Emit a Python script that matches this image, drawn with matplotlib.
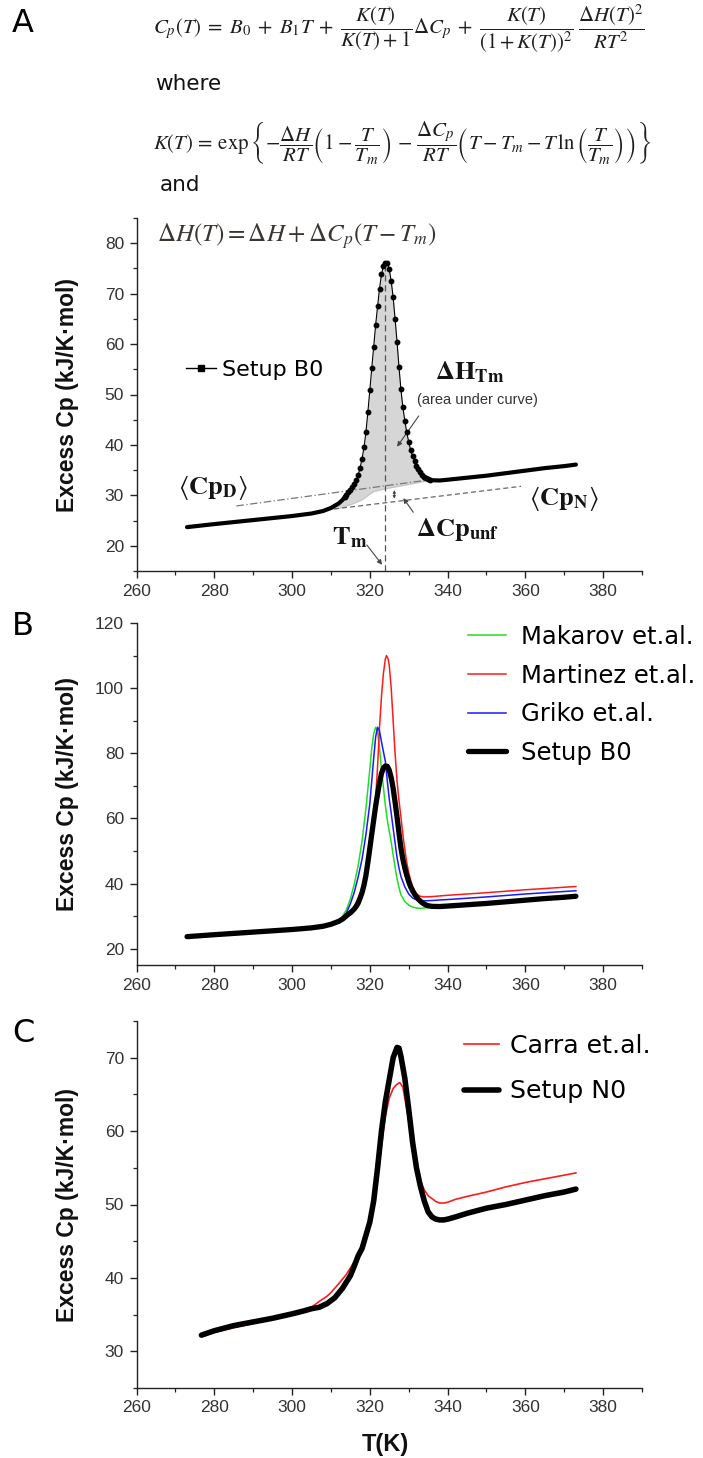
import numpy as np
import matplotlib
matplotlib.use('Agg')
import matplotlib.pyplot as plt
from matplotlib.lines import Line2D
from matplotlib.ticker import MultipleLocator

plt.rcParams['mathtext.fontset'] = 'stix'
plt.rcParams['font.family'] = ['Liberation Sans', 'DejaVu Sans']

# ---------------- data ----------------
# Panel A / B : Setup B0
T_B0 = [273, 280, 290, 300, 305, 308, 310, 312, 313, 313.5, 314, 314.5, 315, 315.5, 316,
        316.5, 317, 317.5, 318, 318.5, 319, 319.5, 320, 320.5, 321, 321.5, 322, 322.5, 323,
        323.5, 324, 324.5, 325, 325.5, 326, 326.5, 327, 327.5, 328, 328.5, 329, 329.5, 330,
        330.5, 331, 331.5, 332, 332.5, 333, 333.5, 334, 334.5, 335, 335.5, 336, 338, 340,
        345, 350, 355, 360, 365, 370, 373]
Cp_B0 = [23.7, 24.3, 25.1, 25.9, 26.4, 26.9, 27.5, 28.4, 29.1, 29.6, 30.1, 30.6, 31.0, 31.6, 32.2,
         33.0, 34.0, 35.5, 37.2, 39.5, 42.5, 46.5, 50.8, 55.2, 59.5, 63.8, 67.5, 71.0, 73.8,
         75.5, 76.1, 76.0, 74.8, 72.5, 69.3, 65.0, 60.5, 55.5, 51.0, 47.5, 44.8, 42.5, 40.6,
         39.0, 37.8, 36.8, 35.9, 35.2, 34.6, 34.1, 33.7, 33.4, 33.2, 33.1, 33.0, 32.95, 33.1,
         33.5, 33.9, 34.4, 34.9, 35.4, 35.8, 36.1]

# Panel A helper lines
T_lineD = [285.7, 335.5]
Cp_lineD = [27.9, 33.1]
T_lineN = [308.7, 358.9]
Cp_lineN = [27.1, 31.8]
T_fill_base = [308.7, 312.0, 315.6, 318.2, 320.8, 323.4, 326.0, 330.3, 335.5]
Cp_fill_base = [27.1, 27.4, 28.3, 29.2, 30.7, 31.2, 31.6, 32.2, 33.0]
Tm = 324.0

# Panel B
T_mak = [273, 290, 300, 305, 308, 310, 312, 313, 314, 315, 316, 317, 318, 319, 320, 320.5, 321,
         321.5, 322, 322.5, 323, 323.5, 324, 324.5, 325, 325.5, 326, 326.5, 327, 327.5, 328,
         329, 330, 331, 332, 333, 335, 337, 340, 350, 360, 373]
Cp_mak = [23.7, 25.1, 25.9, 26.4, 27.0, 27.7, 28.8, 30.0, 32.0, 35.3, 39.8, 45.5, 53.0, 63.0, 75.0,
          81.5, 86.0, 88.0, 86.5, 81.5, 75.0, 69.5, 64.0, 59.5, 56.0, 52.8, 48.8, 45.0, 41.5,
          38.8, 36.6, 34.5, 33.4, 32.8, 32.5, 32.4, 32.6, 32.8, 33.0, 33.8, 34.7, 35.9]
T_mar = [273, 290, 300, 305, 308, 310, 312, 314, 315, 316, 317, 318, 319, 320, 320.5, 321, 321.5,
         322, 322.5, 323, 323.5, 324, 324.3, 324.7, 325, 325.5, 326, 326.5, 327, 327.5, 328,
         328.5, 329, 329.5, 330, 330.5, 331, 331.5, 332, 333, 334, 336, 340, 350, 360, 373]
Cp_mar = [23.7, 25.1, 25.9, 26.4, 26.9, 27.4, 28.2, 29.8, 31.0, 33.0, 35.5, 38.5, 42.5, 48.0, 52.5,
          58.5, 66.0, 76.0, 88.0, 97.5, 104.5, 109.0, 110.0, 109.0, 107.0, 100.0, 90.0, 80.0,
          71.5, 65.5, 60.5, 55.0, 50.5, 46.5, 43.5, 41.0, 39.2, 37.8, 36.8, 36.1, 35.9, 36.0,
          36.4, 37.2, 38.1, 39.1]
T_gri = [273, 290, 300, 305, 308, 310, 312, 313, 314, 315, 316, 317, 318, 319, 320, 320.5, 321,
         321.5, 322, 322.5, 323, 323.5, 324, 324.5, 325, 325.5, 326, 326.5, 327, 327.5, 328,
         329, 330, 331, 332, 333, 334, 336, 340, 350, 360, 373]
Cp_gri = [23.7, 25.1, 25.9, 26.4, 27.0, 27.6, 28.5, 29.5, 31.0, 33.8, 37.3, 42.0, 47.5, 55.0, 64.5,
          71.5, 78.5, 85.0, 88.0, 86.8, 83.5, 80.5, 77.5, 71.5, 66.0, 61.6, 57.0, 52.5, 48.0,
          44.8, 42.2, 39.0, 36.8, 35.6, 35.0, 34.8, 34.7, 34.8, 35.1, 35.9, 36.8, 37.8]

# Panel C
T_car = [276.7, 300, 303, 305, 307, 309, 310, 312, 314, 316, 318, 319, 320, 321, 322, 323, 324,
         325, 326, 327, 327.7, 328.5, 329, 330, 331, 332, 333, 334, 335, 336, 337, 338, 339,
         340, 342, 345, 350, 355, 360, 365, 370, 373]
Cp_car = [32.2, 35.0, 35.5, 36.0, 36.8, 37.5, 38.0, 39.2, 40.5, 42.2, 44.5, 46.0, 47.8, 50.5, 54.0,
          58.0, 62.0, 64.5, 65.8, 66.4, 66.6, 66.0, 64.5, 61.5, 58.0, 55.0, 53.3, 52.0, 51.2,
          50.8, 50.4, 50.2, 50.2, 50.3, 50.7, 51.1, 51.7, 52.4, 53.0, 53.5, 54.0, 54.3]
T_N0 = [276.7, 280, 285, 290, 295, 300, 303, 305, 307, 309, 311, 313, 315, 316, 317, 318, 319,
        320, 321, 322, 323, 324, 325, 326, 327, 327.5, 328, 329, 330, 331, 332, 333, 334, 335,
        336, 337, 338, 339, 340, 342, 345, 350, 355, 360, 365, 370, 373]
Cp_N0 = [32.2, 32.8, 33.5, 34.0, 34.5, 35.1, 35.5, 35.8, 36.0, 36.5, 37.3, 38.6, 40.3, 41.6, 43.0,
         44.0, 45.8, 47.6, 50.5, 55.0, 60.0, 64.0, 67.0, 70.0, 71.4, 71.3, 70.2, 67.2, 63.0,
         58.5, 55.0, 52.5, 50.5, 49.0, 48.3, 48.0, 47.9, 47.9, 48.0, 48.3, 48.8, 49.5, 50.0,
         50.6, 51.2, 51.7, 52.1]

x_ticks = [260, 280, 300, 320, 340, 360, 380]

# ---------------- figure ----------------
W, H = 703, 1458
fig = plt.figure(figsize=(W / 100, H / 100), dpi=100)


def fx(px):
    return px / W


def fy(py):
    return 1 - py / H


L, R = 136.5, 642.0
axA = fig.add_axes([fx(L), fy(571), fx(R) - fx(L), (571 - 218) / H])
axB = fig.add_axes([fx(L), fy(965), fx(R) - fx(L), (965 - 623) / H])
axC = fig.add_axes([fx(L), fy(1388), fx(R) - fx(L), (1388 - 1021) / H])

tick_col = '#333333'
for ax in (axA, axB, axC):
    for s in ('top', 'right'):
        ax.spines[s].set_visible(False)
    for s in ('left', 'bottom'):
        ax.spines[s].set_color('#222222')
        ax.spines[s].set_linewidth(1.0)
    ax.set_xlim(260, 390)
    ax.set_xticks(x_ticks)
    ax.xaxis.set_minor_locator(MultipleLocator(10))
    ax.tick_params(which='major', direction='out', length=5, width=1.0, colors='#222222',
                   labelcolor=tick_col, labelsize=12.5, pad=4)
    ax.tick_params(which='minor', direction='out', length=3, width=0.9, colors='#222222')
    ax.set_ylabel('Excess Cp (kJ/K·mol)', fontsize=16.5, fontweight='bold', color='#111111')
    ax.yaxis.set_label_coords((79 - L) / (R - L), 0.5)

# ---- Panel A ----
axA.set_ylim(15, 85)
axA.set_yticks([20, 30, 40, 50, 60, 70, 80])
axA.yaxis.set_minor_locator(MultipleLocator(5))

TB = np.array(T_B0)
CB = np.array(Cp_B0)
# shaded area under the transition
sel = (TB >= T_fill_base[0]) & (TB <= T_fill_base[-1])
tf = np.concatenate([[T_fill_base[0]], TB[sel], [T_fill_base[-1]]])
cf = np.concatenate([[np.interp(T_fill_base[0], TB, CB)], CB[sel],
                     [np.interp(T_fill_base[-1], TB, CB)]])
base = np.interp(tf, T_fill_base, Cp_fill_base)
axA.fill_between(tf, base, cf, color='#d6d6d6', lw=0, zorder=1)
axA.plot(T_fill_base, Cp_fill_base, color='#c4c4c4', lw=0.8, zorder=1)

axA.plot(T_lineD, Cp_lineD, color='#777777', lw=0.9, ls=(0, (6, 2, 1, 2)), zorder=2)
axA.plot(T_lineN, Cp_lineN, color='#666666', lw=0.9, ls=(0, (4, 2.5)), zorder=2)
axA.plot([Tm, Tm], [15, 75.5], color='#555555', lw=0.9, ls=(0, (5, 3)), zorder=2)

mk = (TB >= 313.4) & (TB <= 335.6)
axA.plot(TB, CB, color='black', lw=0.8, marker='o', ms=3.2, markevery=list(mk), zorder=4)
thick_left = TB <= 314
thick_right = TB >= 335
axA.plot(TB[thick_left], CB[thick_left], color='black', lw=3.0, solid_capstyle='round', zorder=4)
axA.plot(TB[thick_right], CB[thick_right], color='black', lw=3.0, solid_capstyle='round', zorder=4)

hA = Line2D([], [], color='black', lw=1.0, marker='s', ms=5)
axA.legend([hA], ['Setup B0'], loc='center left', bbox_to_anchor=(fx(186), fy(370)),
           bbox_transform=fig.transFigure, frameon=False, handlelength=1.35,
           handletextpad=0.25, borderpad=0, borderaxespad=0, numpoints=1,
           prop={'family': 'DejaVu Sans', 'size': 16})

lab_col = '#141414'
axA.text(279.7, 31.6, r'$\langle\mathbf{Cp_{D}}\rangle$', fontsize=19, ha='center', va='center', color=lab_col)
axA.text(369.9, 29.3, r'$\langle\mathbf{Cp_{N}}\rangle$', fontsize=19, ha='center', va='center', color=lab_col)
axA.text(345.6, 54.4, r'$\mathbf{\Delta H_{Tm}}$', fontsize=19, ha='center', va='center', color=lab_col)
axA.text(347.8, 48.9, '(area under curve)', fontsize=10.5, ha='center', va='center', color='#333333')
axA.text(342.6, 23.3, r'$\mathbf{\Delta Cp_{unf}}$', fontsize=19, ha='center', va='center', color=lab_col)
axA.text(314.7, 21.6, r'$\mathbf{T_{m}}$', fontsize=19, ha='center', va='center', color=lab_col)

arr = dict(arrowstyle='-|>', color='#444444', lw=0.8, mutation_scale=7)
axA.annotate('', xy=(323.6, 15.8), xytext=(318.8, 20.6), arrowprops=arr)
axA.annotate('', xy=(326.6, 39.2), xytext=(333.0, 46.2), arrowprops=arr)
axA.annotate('', xy=(328.2, 29.9), xytext=(331.6, 26.2), arrowprops=arr)
axA.annotate('', xy=(326.3, 28.8), xytext=(326.3, 31.6),
             arrowprops=dict(arrowstyle='<|-|>', color='#444444', lw=0.7, mutation_scale=4))

# ---- Panel B ----
axB.set_ylim(15, 120)
axB.set_yticks([20, 40, 60, 80, 100, 120])
axB.yaxis.set_minor_locator(MultipleLocator(10))
axB.plot(T_mak, Cp_mak, color='#22dd22', lw=1.1, label='Makarov et.al.', zorder=3)
axB.plot(T_mar, Cp_mar, color='#ff1a1a', lw=1.1, label='Martinez et.al.', zorder=3)
axB.plot(T_gri, Cp_gri, color='#1a1aff', lw=1.1, label='Griko et.al.', zorder=3)
axB.plot(T_B0, Cp_B0, color='black', lw=3.8, label='Setup B0', zorder=4, solid_capstyle='round')
axB.legend(loc='upper left', bbox_to_anchor=(fx(468), fy(625)), bbox_transform=fig.transFigure,
           frameon=False, handlelength=1.55, handletextpad=0.62, labelspacing=0.6,
           borderpad=0, borderaxespad=0, prop={'family': 'DejaVu Sans', 'size': 17.5})

# ---- Panel C ----
axC.set_ylim(25, 75)
axC.set_yticks([30, 40, 50, 60, 70])
axC.yaxis.set_minor_locator(MultipleLocator(5))
axC.plot(T_car, Cp_car, color='#ff1a1a', lw=1.2, label='Carra et.al.', zorder=3)
axC.plot(T_N0, Cp_N0, color='black', lw=4.0, label='Setup N0', zorder=4, solid_capstyle='round')
axC.legend(loc='upper left', bbox_to_anchor=(fx(464), fy(1034)), bbox_transform=fig.transFigure,
           frameon=False, handlelength=1.4, handletextpad=0.4, labelspacing=0.85,
           borderpad=0, borderaxespad=0, prop={'family': 'DejaVu Sans', 'size': 18.2})
axC.set_xlabel('T(K)', fontsize=17, fontweight='bold', color='#111111')
axC.xaxis.set_label_coords((385 - L) / (R - L), -(1433 - 1388) / (1388 - 1021))

# ---- equations and panel letters ----
eq_col = '#1e1e1e'
fig.text(fx(153), fy(29), r'$C_p(T)\;=\;B_0\;+\;B_1T\;+\;\dfrac{K(T)}{K(T)+1}\Delta C_p\;+\;'
         r'\dfrac{K(T)}{\left(1+K(T)\right)^2}\;\dfrac{\Delta H(T)^2}{RT^2}$',
         fontsize=15, ha='left', va='center', color=eq_col)
fig.text(fx(155), fy(84), 'where', fontsize=15.5, ha='left', va='center', color='#111111',
         family='DejaVu Sans')
fig.text(fx(153), fy(143), r'$K(T)\,=\,\exp\left\{-\dfrac{\Delta H}{RT}\left(1-\dfrac{T}{T_m}\right)'
         r'\,-\,\dfrac{\Delta C_p}{RT}\left(T - T_m - T\,\ln\left(\dfrac{T}{T_m}\right)\right)\right\}$',
         fontsize=15, ha='left', va='center', color=eq_col)
fig.text(fx(160), fy(185), 'and', fontsize=15.5, ha='left', va='center', color='#111111',
         family='DejaVu Sans')
fig.text(fx(157), fy(236), r'$\Delta H(T) = \Delta H + \Delta C_p\left(T - T_m\right)$',
         fontsize=18, ha='left', va='center', color='#3a3530')

for letter, ytop in (('A', 8), ('B', 611), ('C', 1018)):
    fig.text(fx(12), fy(ytop), letter, fontsize=23, ha='left', va='top', color='black',
             family='DejaVu Sans')

fig.savefig('out.png', dpi=100)
